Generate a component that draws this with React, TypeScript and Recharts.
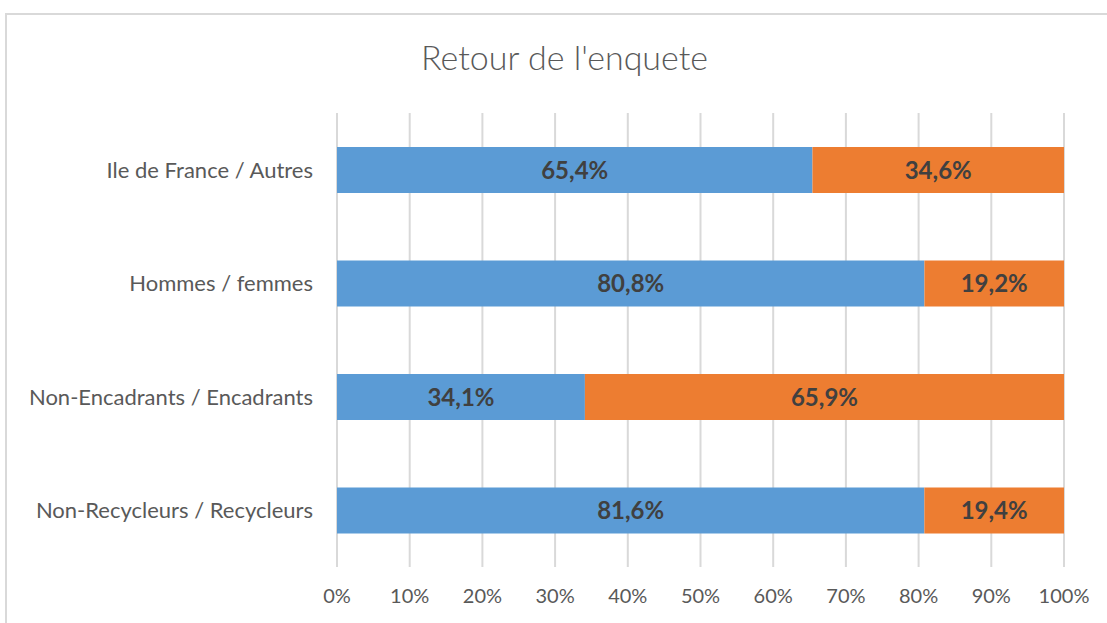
import React from 'react';
import { BarChart, Bar, XAxis, YAxis, CartesianGrid, LabelList } from 'recharts';

const categories = ['Ile de France / Autres', 'Hommes / femmes', 'Non-Encadrants / Encadrants', 'Non-Recycleurs / Recycleurs'];
const firstShare = [65.4, 80.8, 34.1, 81.6];
const secondShare = [34.6, 19.2, 65.9, 19.4];
const xTicks = [0, 0.1, 0.2, 0.3, 0.4, 0.5, 0.6, 0.7, 0.8, 0.9, 1];

const BLUE = '#5b9bd5';
const ORANGE = '#ed7d31';
const FONT = 'Lato, "Open Sans", sans-serif';

const data = categories.map((name, i) => ({ name, a: firstShare[i], b: secondShare[i] }));

const fmt = (v: number) => `${v.toFixed(1).replace('.', ',')}%`;

const App: React.FC = () => {
  return (
    <div style={{ position: 'absolute', left: 0, top: 0, width: 1107, height: 623, overflow: 'hidden', background: '#fff' }}>
      <div style={{ position: 'absolute', left: 5, top: 13, width: 1120, height: 640, border: '2px solid #d9d9d9', boxSizing: 'border-box' }} />
      <div style={{ position: 'absolute', left: 0, top: 36, width: 1107, textAlign: 'center', fontFamily: FONT, fontSize: 34, fontWeight: 300, color: '#595959', paddingLeft: 22, boxSizing: 'border-box' }}>
        Retour de l'enquete
      </div>
      <div style={{ position: 'absolute', left: 0, top: 0 }}>
        <BarChart
          width={1107}
          height={623}
          data={data}
          layout="vertical"
          stackOffset="expand"
          barSize={46}
          margin={{ top: 113, right: 43, bottom: 0, left: 0 }}
        >
          <CartesianGrid horizontal={false} stroke="#d9d9d9" strokeWidth={2} />
          <XAxis
            type="number"
            domain={[0, 1]}
            ticks={xTicks}
            tickFormatter={(v: number) => `${Math.round(v * 100)}%`}
            axisLine={false}
            tickLine={false}
            tickSize={0}
            tickMargin={22}
            height={56}
            tick={{ fill: '#595959', fontSize: 20, fontFamily: FONT }}
          />
          <YAxis
            type="category"
            dataKey="name"
            width={337}
            axisLine={false}
            tickLine={false}
            tickSize={0}
            tickMargin={24}
            tick={{ fill: '#595959', fontSize: 22, fontFamily: FONT }}
          />
          <Bar dataKey="a" stackId="s" fill={BLUE} isAnimationActive={false}>
            <LabelList dataKey="a" position="center" formatter={(v: number) => fmt(v)} fill="#404040" fontSize={24} fontWeight="bold" fontFamily={FONT} />
          </Bar>
          <Bar dataKey="b" stackId="s" fill={ORANGE} isAnimationActive={false}>
            <LabelList dataKey="b" position="center" formatter={(v: number) => fmt(v)} fill="#404040" fontSize={24} fontWeight="bold" fontFamily={FONT} />
          </Bar>
        </BarChart>
      </div>
    </div>
  );
};

export default App;
